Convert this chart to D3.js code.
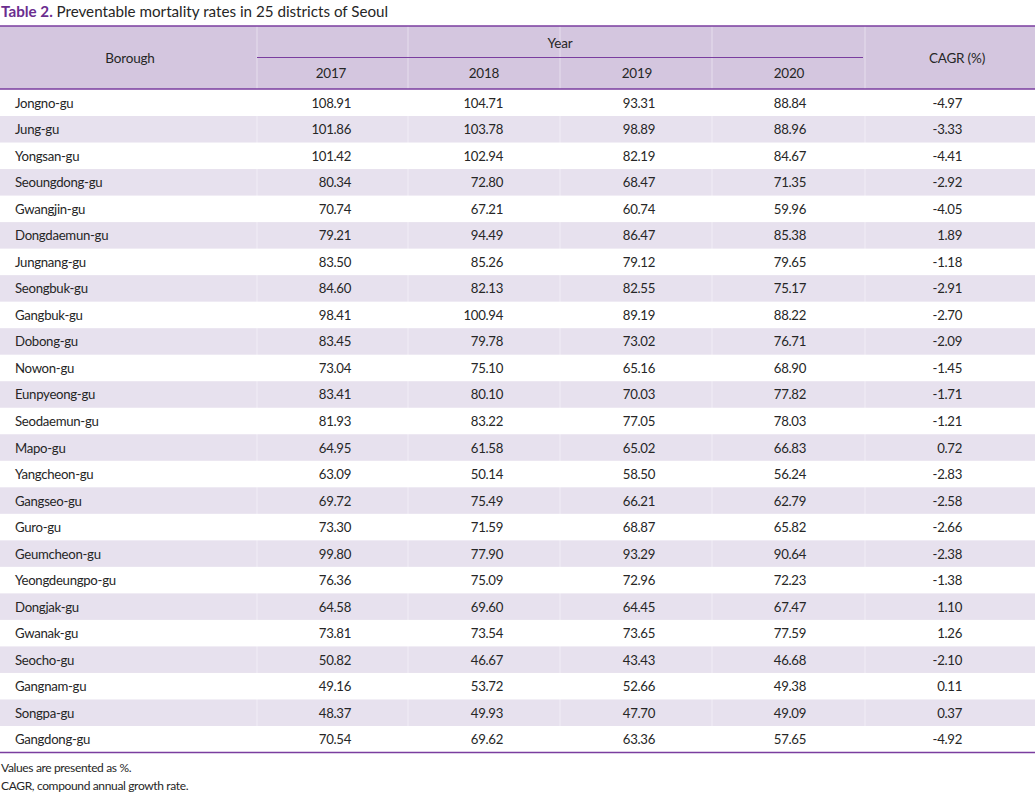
<!DOCTYPE html>
<html>
<head>
<meta charset="utf-8">
<script src="https://cdn.jsdelivr.net/npm/d3@7"></script>
<style>
  body { margin: 0; background: #fff; }
  svg text { font-family: Lato, 'Open Sans', sans-serif; fill: #262626; }
</style>
</head>
<body>
<svg class="tableSvg"></svg>
<script>
// table data
const boroughs = ['Jongno-gu', 'Jung-gu', 'Yongsan-gu', 'Seoungdong-gu', 'Gwangjin-gu',
  'Dongdaemun-gu', 'Jungnang-gu', 'Seongbuk-gu', 'Gangbuk-gu', 'Dobong-gu', 'Nowon-gu',
  'Eunpyeong-gu', 'Seodaemun-gu', 'Mapo-gu', 'Yangcheon-gu', 'Gangseo-gu', 'Guro-gu',
  'Geumcheon-gu', 'Yeongdeungpo-gu', 'Dongjak-gu', 'Gwanak-gu', 'Seocho-gu', 'Gangnam-gu',
  'Songpa-gu', 'Gangdong-gu'];
const years = ['2017', '2018', '2019', '2020'];
const rate2017 = [108.91, 101.86, 101.42, 80.34, 70.74, 79.21, 83.50, 84.60, 98.41, 83.45, 73.04,
  83.41, 81.93, 64.95, 63.09, 69.72, 73.30, 99.80, 76.36, 64.58, 73.81, 50.82, 49.16, 48.37, 70.54];
const rate2018 = [104.71, 103.78, 102.94, 72.80, 67.21, 94.49, 85.26, 82.13, 100.94, 79.78, 75.10,
  80.10, 83.22, 61.58, 50.14, 75.49, 71.59, 77.90, 75.09, 69.60, 73.54, 46.67, 53.72, 49.93, 69.62];
const rate2019 = [93.31, 98.89, 82.19, 68.47, 60.74, 86.47, 79.12, 82.55, 89.19, 73.02, 65.16,
  70.03, 77.05, 65.02, 58.50, 66.21, 68.87, 93.29, 72.96, 64.45, 73.65, 43.43, 52.66, 47.70, 63.36];
const rate2020 = [88.84, 88.96, 84.67, 71.35, 59.96, 85.38, 79.65, 75.17, 88.22, 76.71, 68.90,
  77.82, 78.03, 66.83, 56.24, 62.79, 65.82, 90.64, 72.23, 67.47, 77.59, 46.68, 49.38, 49.09, 57.65];
const cagr = [-4.97, -3.33, -4.41, -2.92, -4.05, 1.89, -1.18, -2.91, -2.70, -2.09, -1.45, -1.71,
  -1.21, 0.72, -2.83, -2.58, -2.66, -2.38, -1.38, 1.10, 1.26, -2.10, 0.11, 0.37, -4.92];
const notes = ['Values are presented as %.', 'CAGR, compound annual growth rate.'];

const width = 1035;
const height = 799;
const purple = '#7a3d9f';

const svg = d3.select('.tableSvg').attr('width', width).attr('height', height);

// title
const title = svg.append('text').attr('x', 1).attr('y', 17).style('font-size', '15.2px');
title.append('tspan').text('Table 2. ').style('font-weight', 'bold').style('fill', '#6b2d8f');
title.append('tspan').text('Preventable mortality rates in 25 districts of Seoul');

// rows
const rowScale = d3.scaleBand().domain(boroughs).range([89.5, 752.5]);
const colEdges = [0, 257, 408, 560, 712, 865, width];
const yearRight = [351, 503, 655, 806];
const yearCenter = [331, 484, 637, 789];

// header background
svg.append('rect').attr('x', 0).attr('y', 26).attr('width', width).attr('height', 63)
  .attr('fill', '#d4c6df');

// shaded rows
svg.selectAll('.band')
  .data(boroughs.filter((d, i) => i % 2 === 1))
  .enter()
  .append('rect')
  .classed('band', true)
  .attr('x', 0)
  .attr('y', (d) => rowScale(d))
  .attr('width', width)
  .attr('height', rowScale.bandwidth())
  .attr('fill', '#e7e1ee');

// faint white column separators
svg.selectAll('.sep')
  .data(colEdges.slice(1, -1))
  .enter()
  .append('line')
  .classed('sep', true)
  .attr('x1', (d) => d).attr('x2', (d) => d)
  .attr('y1', 26).attr('y2', 752)
  .attr('stroke', '#fff').attr('stroke-width', 1)
  .attr('stroke-opacity', 0.45);

// rules
const rule = (x1, x2, y, w) => svg.append('line')
  .attr('x1', x1).attr('x2', x2).attr('y1', y).attr('y2', y)
  .attr('stroke', purple).attr('stroke-width', w);
rule(0, width, 26, 1.3);
rule(257, 863, 57.5, 1.2);
rule(0, width, 89, 1.3);
rule(0, width, 752.5, 1.3);

// header text
const head = (x, y, t) => svg.append('text').attr('x', x).attr('y', y)
  .attr('text-anchor', 'middle').attr('dominant-baseline', 'central')
  .style('font-size', '13.5px').style('letter-spacing', '-0.2px').text(t);
head(130, 58, 'Borough');
head(560, 43, 'Year');
head(957, 58, 'CAGR (%)');
years.forEach((y, i) => head(yearCenter[i], 73, y));

// body cells
const cols = [rate2017, rate2018, rate2019, rate2020];
const rows = svg.selectAll('.row')
  .data(boroughs)
  .enter()
  .append('g')
  .classed('row', true)
  .attr('transform', (d) => `translate(0, ${rowScale(d) + rowScale.bandwidth() / 2})`);

const cell = (sel) => sel
  .attr('dominant-baseline', 'central')
  .style('font-size', '13.2px')
  .style('letter-spacing', '-0.3px');

rows.append('text')
  .attr('x', 15)
  .call(cell)
  .text((d) => d);

cols.forEach((col, c) => {
  rows.append('text')
    .attr('x', yearRight[c])
    .attr('text-anchor', 'end')
    .call(cell)
    .text((d, i) => col[i].toFixed(2));
});

rows.append('text')
  .attr('x', 962)
  .attr('text-anchor', 'end')
  .call(cell)
  .text((d, i) => cagr[i].toFixed(2));

// footnotes
svg.selectAll('.note')
  .data(notes)
  .enter()
  .append('text')
  .classed('note', true)
  .attr('x', 1)
  .attr('y', (d, i) => 772 + i * 18)
  .style('font-size', '12px')
  .style('letter-spacing', '-0.35px')
  .text((d) => d);
</script>
</body>
</html>
